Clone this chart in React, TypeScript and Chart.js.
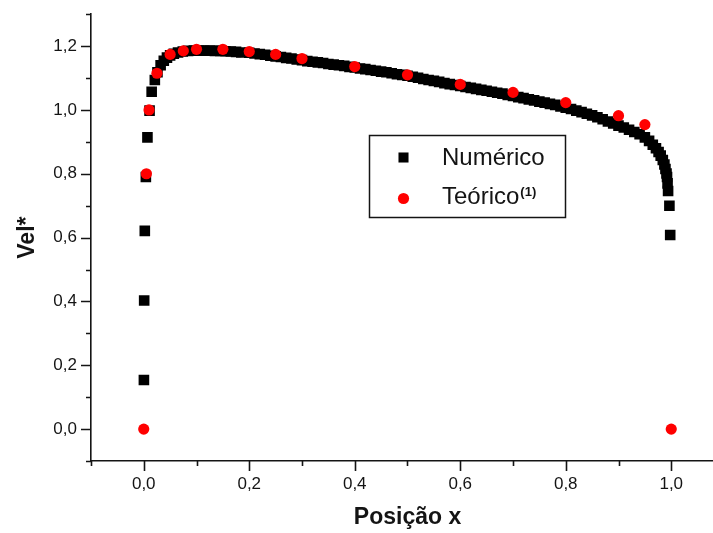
import React, { useEffect, useRef } from "react";
import { Chart, registerables } from "chart.js";

Chart.register(...registerables);

// Numerical solution: velocity profile across the channel (squares)
const NUM_X = [
  0.0003, 0.0008, 0.002, 0.004, 0.007, 0.011, 0.015, 0.021, 0.026, 0.032,
  0.038, 0.044, 0.05, 0.057, 0.065, 0.074, 0.084, 0.095, 0.105, 0.115,
  0.125, 0.135, 0.145, 0.155, 0.165, 0.175, 0.185,
  0.2, 0.21, 0.22, 0.23, 0.24, 0.25, 0.26, 0.27, 0.28, 0.29,
  0.3, 0.31, 0.32, 0.33, 0.34, 0.35, 0.36, 0.37, 0.38, 0.39,
  0.4, 0.41, 0.42, 0.43, 0.44, 0.45, 0.46, 0.47, 0.48, 0.49,
  0.5, 0.51, 0.52, 0.53, 0.54, 0.55, 0.56, 0.57, 0.58, 0.59,
  0.6, 0.61, 0.62, 0.63, 0.64, 0.65, 0.66, 0.67, 0.68, 0.69,
  0.7, 0.71, 0.72, 0.73, 0.74, 0.75, 0.76, 0.77, 0.78, 0.79,
  0.8, 0.81, 0.82, 0.83, 0.84, 0.85, 0.86, 0.87, 0.88, 0.89,
  0.9, 0.91, 0.92, 0.93, 0.94, 0.95, 0.958, 0.965, 0.971, 0.976,
  0.98, 0.984, 0.987, 0.989, 0.991, 0.992, 0.993, 0.994, 0.9965, 0.998,
];
const NUM_Y = [
  0.154, 0.403, 0.621, 0.79, 0.914, 0.998, 1.057, 1.094, 1.118, 1.14,
  1.154, 1.164, 1.171, 1.176, 1.18, 1.183, 1.185, 1.186, 1.186, 1.186,
  1.186, 1.185, 1.185, 1.184, 1.183, 1.182, 1.18,
  1.179, 1.177, 1.175, 1.173, 1.17, 1.168, 1.166, 1.163, 1.161, 1.158,
  1.156, 1.153, 1.151, 1.149, 1.147, 1.144, 1.142, 1.14, 1.138, 1.135,
  1.133, 1.13, 1.128, 1.125, 1.123, 1.12, 1.118, 1.115, 1.112, 1.11,
  1.107, 1.104, 1.101, 1.097, 1.094, 1.091, 1.088, 1.084, 1.081, 1.078,
  1.075, 1.072, 1.069, 1.066, 1.063, 1.06, 1.057, 1.054, 1.051, 1.047,
  1.044, 1.04, 1.037, 1.033, 1.03, 1.026, 1.023, 1.019, 1.016, 1.011,
  1.007, 1.003, 0.998, 0.993, 0.988, 0.983, 0.977, 0.971, 0.964, 0.958,
  0.951, 0.945, 0.938, 0.931, 0.924, 0.914, 0.903, 0.891, 0.88, 0.868,
  0.857, 0.843, 0.829, 0.815, 0.801, 0.79, 0.77, 0.746, 0.7, 0.608,
];

// Theoretical profile (circles)
const TEO_X = [
  0, 0.005, 0.01, 0.025, 0.05, 0.075, 0.1, 0.15, 0.2, 0.25,
  0.3, 0.4, 0.5, 0.6, 0.7, 0.8, 0.9, 0.95, 1.0,
];
const TEO_Y = [
  0, 0.8, 1.0, 1.115, 1.174, 1.185, 1.19, 1.19, 1.183, 1.174,
  1.161, 1.136, 1.11, 1.08, 1.055, 1.023, 0.982, 0.954, 0,
];

// Axis ticks: labelled every 0.2, short marks in between
const X_TICKS = [-0.1, 0, 0.1, 0.2, 0.3, 0.4, 0.5, 0.6, 0.7, 0.8, 0.9, 1.0, 1.1];
const Y_TICKS = [-0.1, 0, 0.1, 0.2, 0.3, 0.4, 0.5, 0.6, 0.7, 0.8, 0.9, 1.0, 1.1, 1.2, 1.3];

const X_TITLE = "Posição x";
const Y_TITLE = "Vel*";
const LEGEND_NUM = "Numérico";
const LEGEND_TEO = "Teórico";
const LEGEND_TEO_SUP = "(1)";

const FONT = "'Liberation Sans', Arial, sans-serif";
const INK = "#141414";
const SQUARE_R = 7.5;
const CIRCLE_R = 5.6;

const isMajor = (v: number) => Math.round(v * 10) % 2 === 0;
const fmt = (v: number) => (isMajor(v) ? v.toFixed(1).replace(".", ",") : "");

// Major/minor tick marks drawn outside the axes
const axisTicks = {
  id: "axisTicks",
  afterDraw(chart: any) {
    const { ctx, chartArea, scales } = chart;
    ctx.save();
    ctx.strokeStyle = INK;
    ctx.lineWidth = 1.6;
    ctx.beginPath();
    for (const t of scales.x.ticks) {
      const px = Math.round(scales.x.getPixelForValue(t.value)) + 0.5;
      const len = isMajor(t.value) ? 10 : 5;
      ctx.moveTo(px, chartArea.bottom);
      ctx.lineTo(px, chartArea.bottom + len);
    }
    for (const t of scales.y.ticks) {
      const py = Math.round(scales.y.getPixelForValue(t.value)) + 0.5;
      const len = isMajor(t.value) ? 10 : 5;
      ctx.moveTo(chartArea.left, py);
      ctx.lineTo(chartArea.left - len, py);
    }
    ctx.stroke();
    ctx.restore();
  },
};

// Framed legend with a superscript reference mark
const boxLegend = {
  id: "boxLegend",
  afterDatasetsDraw(chart: any) {
    const { ctx } = chart;
    const left = 369.5;
    const top = 135.5;
    const w = 196;
    const h = 82;
    ctx.save();
    ctx.fillStyle = "#ffffff";
    ctx.fillRect(left, top, w, h);
    ctx.strokeStyle = INK;
    ctx.lineWidth = 1.5;
    ctx.strokeRect(left, top, w, h);

    const mx = 403.5;
    const s = 7.1 * Math.SQRT1_2;
    ctx.fillStyle = "#000000";
    ctx.fillRect(mx - s, 157.5 - s, 2 * s, 2 * s);
    ctx.fillStyle = "#ff0000";
    ctx.beginPath();
    ctx.arc(mx, 198.5, CIRCLE_R, 0, Math.PI * 2);
    ctx.fill();

    ctx.fillStyle = INK;
    ctx.textAlign = "left";
    ctx.textBaseline = "alphabetic";
    ctx.font = `24px ${FONT}`;
    ctx.fillText(LEGEND_NUM, 442, 165);
    ctx.fillText(LEGEND_TEO, 442, 204);
    const tw = ctx.measureText(LEGEND_TEO).width;
    ctx.font = `bold 13px ${FONT}`;
    ctx.fillText(LEGEND_TEO_SUP, 442 + tw + 1, 195.5);
    ctx.restore();
  },
};

export default function App() {
  const ref = useRef<HTMLCanvasElement>(null);

  useEffect(() => {
    const canvas = ref.current;
    if (!canvas) return;
    const tickFont = { family: FONT, size: 17 };
    const titleFont = { family: FONT, size: 23, weight: "bold" as const };

    const chart = new Chart(canvas, {
      type: "scatter",
      data: {
        datasets: [
          {
            label: LEGEND_TEO,
            data: TEO_X.map((x, i) => ({ x, y: TEO_Y[i] })),
            pointStyle: "circle",
            pointRadius: CIRCLE_R,
            pointBorderWidth: 0,
            backgroundColor: "#ff0000",
            borderColor: "#ff0000",
            order: 0,
          },
          {
            label: LEGEND_NUM,
            data: NUM_X.map((x, i) => ({ x, y: NUM_Y[i] })),
            pointStyle: "rect",
            pointRadius: SQUARE_R,
            pointBorderWidth: 0,
            backgroundColor: "#000000",
            borderColor: "#000000",
            order: 1,
          },
        ],
      },
      options: {
        responsive: false,
        animation: false,
        devicePixelRatio: 1,
        layout: {
          autoPadding: false,
          padding: { left: 0, right: 0, top: 11, bottom: 0 },
        },
        plugins: {
          legend: { display: false },
          tooltip: { enabled: false },
        },
        scales: {
          x: {
            type: "linear",
            min: -0.1,
            max: 1.1,
            afterBuildTicks: (s: any) => {
              s.ticks = X_TICKS.map((value) => ({ value }));
            },
            afterFit: (s: any) => {
              s.height = 72;
              s.paddingLeft = 0;
              s.paddingRight = 0;
            },
            ticks: {
              autoSkip: false,
              maxRotation: 0,
              padding: 3,
              font: tickFont,
              color: INK,
              callback: (v: any) => fmt(Number(v)),
            },
            grid: {
              drawOnChartArea: false,
              drawTicks: true,
              tickLength: 10,
              tickColor: "rgba(0,0,0,0)",
            },
            border: { display: true, color: INK, width: 1.6 },
            title: {
              display: true,
              text: X_TITLE,
              font: titleFont,
              color: INK,
              padding: { top: 0, bottom: 2 },
            },
          },
          y: {
            type: "linear",
            min: -0.1,
            max: 1.3,
            afterBuildTicks: (s: any) => {
              s.ticks = Y_TICKS.map((value) => ({ value }));
            },
            afterFit: (s: any) => {
              s.width = 91;
            },
            ticks: {
              autoSkip: false,
              padding: 4,
              font: tickFont,
              color: INK,
              callback: (v: any) => fmt(Number(v)),
            },
            grid: {
              drawOnChartArea: false,
              drawTicks: true,
              tickLength: 10,
              tickColor: "rgba(0,0,0,0)",
            },
            border: { display: true, color: INK, width: 1.6 },
            title: {
              display: true,
              text: Y_TITLE,
              font: titleFont,
              color: INK,
              padding: { top: 14, bottom: 0 },
            },
          },
        },
      },
      plugins: [axisTicks, boxLegend],
    });

    return () => chart.destroy();
  }, []);

  return (
    <div
      style={{
        position: "absolute",
        left: 0,
        top: 0,
        width: 713,
        height: 533,
        overflow: "hidden",
        background: "#ffffff",
      }}
    >
      <canvas ref={ref} width={724} height={533} style={{ display: "block" }} />
    </div>
  );
}
